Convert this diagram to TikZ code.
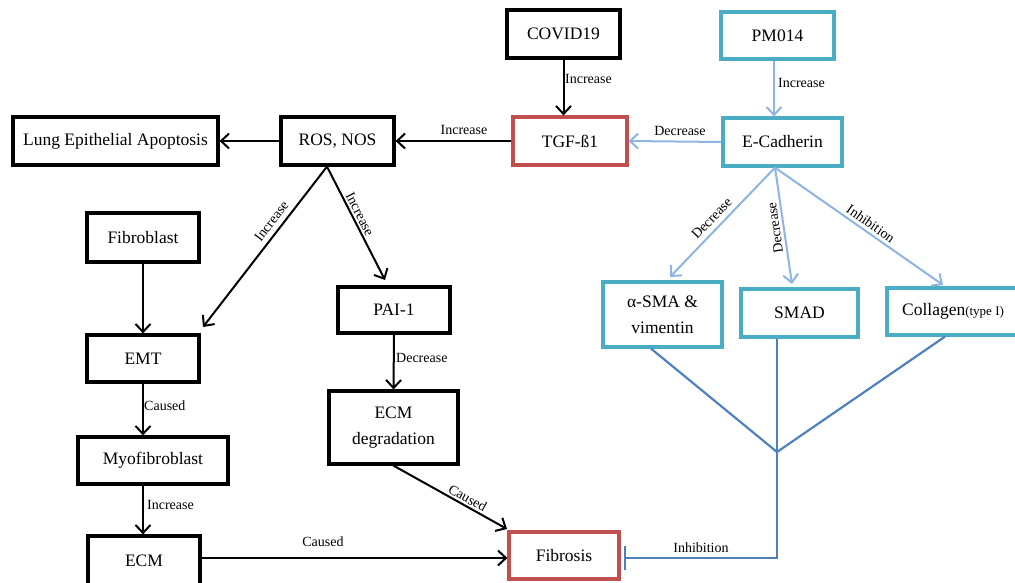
\documentclass[tikz,border=0pt]{standalone}
\usepackage{fontspec}
\setmainfont{Liberation Serif}
\usetikzlibrary{arrows.meta}
\definecolor{cyanb}{RGB}{75,172,198}
\definecolor{redb}{RGB}{192,80,77}
\definecolor{lblue}{RGB}{142,180,227}
\definecolor{dblue}{RGB}{79,129,189}
\begin{document}
\begin{tikzpicture}[x=1pt,y=-1pt,
 box/.style={draw=black, line width=3.2pt, rectangle, inner sep=0pt, align=center, font=\fontsize{17.5}{26}\selectfont},
 cbox/.style={box, draw=cyanb},
 rbox/.style={box, draw=redb},
 arr/.style={line width=2pt, -{Straight Barb[length=8pt,width=15pt]}},
 barr/.style={arr, draw=lblue},
 inh/.style={line width=2.2pt, draw=dblue},
 lbl/.style={font=\fontsize{14}{16}\selectfont, inner sep=1pt},
]
\useasboundingbox (0,0) rectangle (1015,583);
% nodes
\node[box, minimum width=113pt, minimum height=48pt] (covid) at (563.5,34) {COVID19};
\node[cbox, minimum width=113pt, minimum height=47pt] (pm) at (777.5,35.5) {PM014};
\node[rbox, minimum width=114pt, minimum height=48pt] (tgf) at (570,141) {TGF-ß1};
\node[cbox, minimum width=119pt, minimum height=48pt] (ecad) at (782.5,142) {E-Cadherin};
\node[box, minimum width=113pt, minimum height=48pt] (ros) at (337.5,141) {ROS, NOS};
\node[box, minimum width=205pt, minimum height=48pt] (lung) at (115.5,141) {Lung Epithelial Apoptosis};
\node[box, minimum width=112pt, minimum height=49pt] (fib) at (143,237.5) {Fibroblast};
\node[box, minimum width=112pt, minimum height=46pt] (pai) at (394,310) {PAI-1};
\node[box, minimum width=112pt, minimum height=47pt] (emt) at (143,358.5) {EMT};
\node[box, minimum width=129pt, minimum height=73pt] (ecmd) at (393.5,427.5) {ECM\\degradation};
\node[box, minimum width=150pt, minimum height=47pt] (myo) at (153,460.5) {Myofibroblast};
\node[box, minimum width=112pt, minimum height=50pt] (ecm) at (144,561) {ECM};
\node[rbox, minimum width=110pt, minimum height=47pt] (fibr) at (564,555.5) {Fibrosis};
\node[cbox, minimum width=119pt, minimum height=65pt] (asma) at (662.5,314.5) {α-SMA \&\\vimentin};
\node[cbox, minimum width=117pt, minimum height=48pt] (smad) at (799.5,313) {SMAD};
\node[cbox, minimum width=132pt, minimum height=47pt] (coll) at (953,311.5) {Collagen{\fontsize{13}{15}\selectfont(type I)}};
% coordinates
\coordinate (rosB) at ([xshift=-10.5pt]ros.south);
\coordinate (emtT) at (203,327);
\coordinate (paiT) at (385,280);
\coordinate (ecmE) at ([yshift=3pt]ecm.east);
\coordinate (fibrT) at (507,529);
\coordinate (ecB) at ([xshift=-7.5pt]ecad.south);
\coordinate (asmaT) at (670,277);
\coordinate (smadT) at (792,284);
\coordinate (collT) at (943,285);
\coordinate (asmaB) at ([xshift=-11.5pt]asma.south);
\coordinate (smadB) at ([xshift=-22.5pt]smad.south);
\coordinate (collB) at ([xshift=-8pt]coll.south);
\coordinate (junc) at (777,452);
% black arrows
\draw[arr] (covid.south) -- (covid.south |- tgf.north);
\draw[arr] (tgf.west) -- (ros.east);
\draw[arr] (ros.west) -- (lung.east);
\draw[arr] (rosB) -- node[lbl, sloped, above=4pt, pos=0.38] {Increase} (emtT);
\draw[arr] (rosB) -- node[lbl, sloped, above=1pt, pos=0.45] {Increase} (paiT);
\draw[arr] (fib.south) -- (emt.north);
\draw[arr] (pai.south) -- (ecmd.north);
\draw[arr] (emt.south) -- (emt.south |- myo.north);
\draw[arr] (myo.south -| emt.south) -- (emt.south |- ecm.north);
\draw[arr] (ecmE) -- (ecmE -| fibr.west);
\draw[arr] (ecmd.south) -- node[lbl, sloped, above=1pt, pos=0.62] {Caused} (fibrT);
% blue arrows
\draw[barr] (pm.south -| 774,0) -- (ecad.north -| 774,0);
\draw[barr] (ecad.west) -- (tgf.east);
\draw[barr] (ecB) -- node[lbl, sloped, above=4pt, pos=0.53] {Decrease} (asmaT);
\draw[barr] (ecB) -- node[lbl, pos=0.51, rotate=98.1, anchor=south, inner sep=3pt] {Decrease} (smadT);
\draw[barr] (ecB) -- node[lbl, sloped, above=2pt, pos=0.54] {Inhibition} (collT);
% inhibition tree
\draw[inh] (asmaB) -- (junc);
\draw[inh] (collB) -- (junc);
\draw[inh, -{Bar[width=24pt]}, shorten >=3.5pt] (smadB) -- (junc) -- (junc |- ecmE) -- (ecmE -| fibr.east);
% straight labels
\node[lbl, anchor=west] (l1) at (564,79) {Increase};
\node[lbl, anchor=west] (l2) at (777,83) {Increase};
\node[lbl] (l3) at (680,131) {Decrease};
\node[lbl] (l4) at (464,130) {Increase};
\node[lbl, anchor=west] (l5) at (395,358) {Decrease};
\node[lbl, anchor=west] (l6) at (143,406) {Caused};
\node[lbl, anchor=west] (l7) at (146,505) {Increase};
\node[lbl] (l8) at (323,542) {Caused};
\node[lbl] (l9) at (701,548) {Inhibition};
\end{tikzpicture}
\end{document}
